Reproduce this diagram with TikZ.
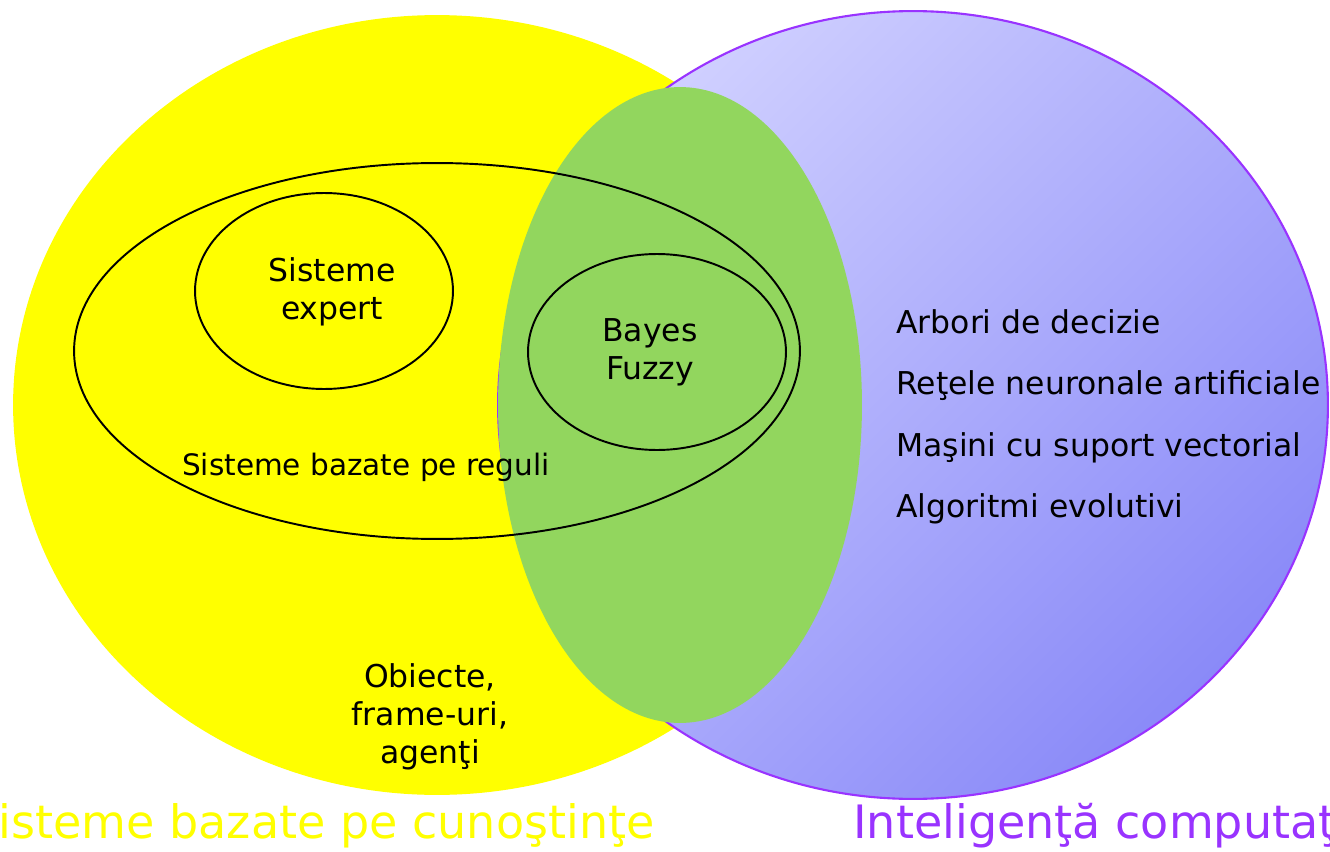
\documentclass[tikz,border=0pt]{standalone}
\usepackage{fontspec}
\setmainfont{DejaVu Sans}
\usetikzlibrary{shapes.geometric}
\definecolor{kbyellow}{RGB}{255,255,0}
\definecolor{cigreen}{RGB}{146,214,94}
\definecolor{cilight}{RGB}{208,208,255}
\definecolor{cidark}{RGB}{138,138,248}
\definecolor{ciline}{RGB}{153,51,255}
\tikzset{
  set/.style={ellipse, inner sep=0pt, outer sep=0pt},
  rule/.style={ellipse, draw, line width=1.1pt, inner sep=0pt},
  txt/.style={font=\fontsize{17.9}{21.6}\selectfont, align=center, inner sep=0pt},
  big/.style={font=\fontsize{26.2}{31}\selectfont, inner sep=0pt}
}
\begin{document}
\begin{tikzpicture}[x=0.02cm, y=-0.02cm]
    \useasboundingbox (0,0) rectangle (1330,852);
    \node[set, fill=kbyellow, minimum width=16.96cm, minimum height=15.6cm] (kb) at (437,405) {};
    \node[set, draw=ciline, line width=1.2pt, top color=cilight, bottom color=cidark, shading angle=45, minimum width=16.6cm, minimum height=15.76cm] (ci) at (913,405) {};
    \node[set, fill=cigreen, minimum width=7.28cm, minimum height=12.72cm] (both) at (680,405) {};
    \node[rule, minimum width=14.52cm, minimum height=7.52cm] (rules) at (437,351) {};
    \node[rule, minimum width=5.16cm, minimum height=3.92cm] (expert) at (324,291) {};
    \node[rule, minimum width=5.16cm, minimum height=3.92cm] (bayes) at (657,352) {};
    \node[txt] (expertlbl) at (332,292) {Sisteme\\expert};
    \node[txt] (bayeslbl) at (650,352) {Bayes\\Fuzzy};
    \node[txt, font=\fontsize{16.8}{20}\selectfont, anchor=base] (ruleslbl) at (366,475) {Sisteme bazate pe reguli};
    \node[txt] (objlbl) at (430,717) {Obiecte,\\frame-uri,\\agenţi};
    \node[txt, anchor=base west] (arbori) at (896,333) {Arbori de decizie};
    \node[txt, anchor=base west] (retele) at (896,394) {Reţele neuronale artificiale};
    \node[txt, anchor=base west] (masini) at (896,456) {Maşini cu suport vectorial};
    \node[txt, anchor=base west] (algo) at (896,517) {Algoritmi evolutivi};
    \node[big, text=kbyellow, anchor=base east] (kblbl) at (655,838) {Sisteme bazate pe cunoştinţe};
    \node[big, text=ciline, anchor=base west] (cilbl) at (853,838) {Inteligenţă computaţională};
\end{tikzpicture}
\end{document}
